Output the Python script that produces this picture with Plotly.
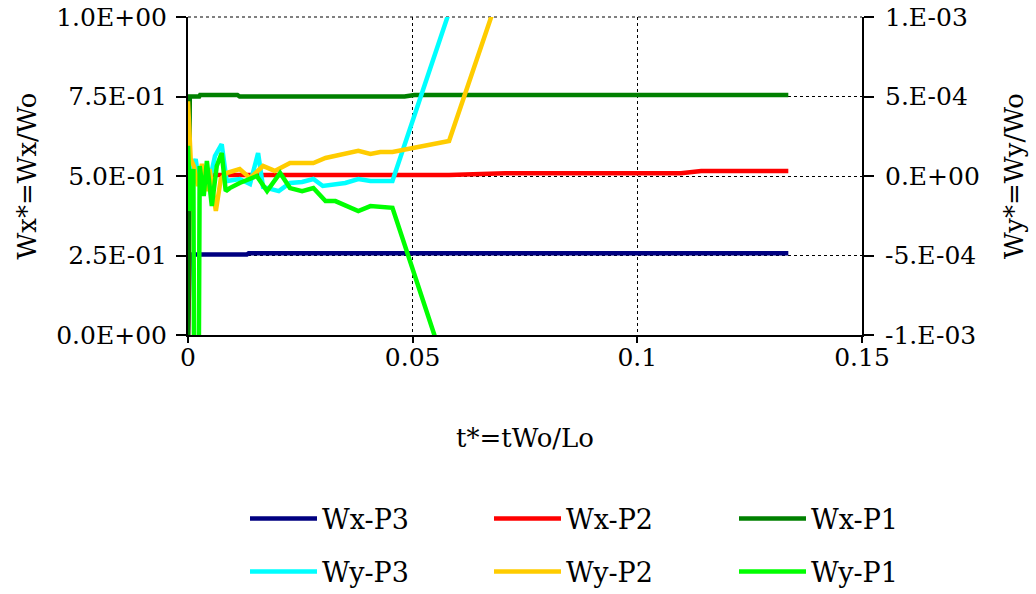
import plotly.graph_objects as go

# ---- data ----
t_wx_p3 = [0, 0.0004, 0.0131, 0.0135, 0.1336]
wx_p3 = [0, 0.253, 0.253, 0.257, 0.257]

t_wx_p2 = [0, 0.0004, 0.0581, 0.0706, 0.1097, 0.1142, 0.1336]
wx_p2 = [0, 0.503, 0.503, 0.509, 0.509, 0.516, 0.516]

t_wx_p1 = [0, 0.0004, 0.0025, 0.0027, 0.011, 0.0115, 0.0482, 0.0504, 0.1336]
wx_p1 = [0, 0.75, 0.75, 0.755, 0.755, 0.75, 0.75, 0.755, 0.755]

t_wy_p3 = [0, 0.0008, 0.0017, 0.0026, 0.0037, 0.0048, 0.006, 0.0075, 0.0086, 0.0115,
           0.0138, 0.0156, 0.0167, 0.0202, 0.0227, 0.0254, 0.0279, 0.03, 0.035, 0.0379,
           0.0406, 0.0455, 0.0581]
wy_p3 = [1.6e-4, 3.2e-5, 1.07e-4, -6.3e-5, 6.3e-5, -3.2e-5, 1.26e-4, 2.0e-4, -3.2e-5, -1.9e-5,
         -5e-5, 1.45e-4, -6.9e-5, -9.5e-5, -4.4e-5, -3.8e-5, -1.9e-5, -6.3e-5, -4.4e-5, -1.9e-5,
         -3.2e-5, -3.2e-5, 1.03e-3]

t_wy_p2 = [0, 0.0006, 0.0013, 0.0022, 0.0031, 0.004, 0.0048, 0.0062, 0.0073, 0.0086,
           0.0115, 0.0138, 0.0167, 0.0193, 0.0227, 0.0279, 0.0306, 0.035, 0.0379, 0.0406,
           0.0428, 0.0455, 0.0581, 0.0706]
wy_p2 = [4.7e-4, 1.07e-4, 6.3e-5, -6.3e-5, 7.6e-5, -9.5e-5, 4.4e-5, -2.2e-4, -1.9e-5, 1.9e-5,
         4.4e-5, -1.3e-5, 6.3e-5, 3.2e-5, 8.2e-5, 8.2e-5, 1.13e-4, 1.39e-4, 1.58e-4, 1.39e-4,
         1.51e-4, 1.51e-4, 2.2e-4, 1.26e-3]

t_wy_p1 = [0, 0.0005, 0.0012, 0.0018, 0.0026, 0.0035, 0.0042, 0.0053, 0.0064, 0.0075,
           0.0084, 0.0093, 0.0115, 0.0153, 0.0176, 0.0205, 0.0227, 0.0254, 0.0279, 0.0306,
           0.0328, 0.0379, 0.0406, 0.0455, 0.0581]
wy_p1 = [1.9e-4, -2.2e-4, 4.4e-5, -5e-3, 6.3e-5, -1.26e-4, 9.5e-5, -1.89e-4, 6.3e-5, 1.45e-4,
         -9.5e-5, -7.6e-5, -4.4e-5, 0, -9.5e-5, 1.9e-5, -7.6e-5, -9.5e-5, -7.6e-5, -1.58e-4,
         -1.58e-4, -2.2e-4, -1.89e-4, -2.0e-4, -1.28e-3]

x_tickvals = [0, 0.05, 0.1, 0.15]
x_ticktext = ["0", "0.05", "0.1", "0.15"]
y_tickvals = [0, 0.25, 0.5, 0.75, 1.0]
y_ticktext = ["0.0E+00", "2.5E-01", "5.0E-01", "7.5E-01", "1.0E+00"]
y2_tickvals = [-1e-3, -5e-4, 0, 5e-4, 1e-3]
y2_ticktext = ["-1.E-03", "-5.E-04", "0.E+00", "5.E-04", "1.E-03"]

FONT = "DejaVu Serif, Liberation Serif, Times New Roman, serif"
FS_TICK = 25
FS = 26
FS_LEG = 27
LW = 4.5

legend_cols = [245, 489, 734]
legend_rows = [519, 572]

fig = go.Figure()
series = [
    ("Wx-P3", t_wx_p3, wx_p3, "#000080", "y"),
    ("Wx-P2", t_wx_p2, wx_p2, "#FF0000", "y"),
    ("Wx-P1", t_wx_p1, wx_p1, "#008000", "y"),
    ("Wy-P3", t_wy_p3, wy_p3, "#00FFFF", "y2"),
    ("Wy-P2", t_wy_p2, wy_p2, "#FFCC00", "y2"),
    ("Wy-P1", t_wy_p1, wy_p1, "#00FF00", "y2"),
]
legends = {}
for i, (name, tx, vy, col, ax) in enumerate(series):
    leg = "legend" if i == 0 else f"legend{i + 1}"
    fig.add_trace(go.Scatter(x=tx, y=vy, name=name, mode="lines", yaxis=ax, legend=leg,
                             showlegend=True, line=dict(color=col, width=LW)))
    legends[leg] = dict(orientation="h", xanchor="left", yanchor="middle",
                        xref="container", yref="container", visible=True,
                        x=legend_cols[i % 3] / 1036, y=1 - legend_rows[i // 3] / 594,
                        font=dict(family=FONT, size=FS_LEG, color="black"),
                        itemwidth=67, bgcolor="rgba(0,0,0,0)")

axis_common = dict(showline=True, linecolor="black", linewidth=2, ticks="outside",
                   tickwidth=2, tickcolor="black", zeroline=False,
                   automargin=False, ticklabeloverflow="allow",
                   tickfont=dict(family=FONT, size=FS_TICK, color="black"))

fig.update_layout(
    width=1036, height=594,
    showlegend=True,
    margin=dict(l=188, r=174, t=17, b=259, autoexpand=False),
    paper_bgcolor="white", plot_bgcolor="white",
    font=dict(family=FONT, size=FS, color="black"),
    xaxis=dict(range=[0, 0.15], tickvals=x_tickvals, ticktext=x_ticktext,
               showgrid=True, gridcolor="black", griddash="dot", gridwidth=1,
               ticklen=6, ticklabelstandoff=-7,
               title=dict(text="t*=tWo/Lo", font=dict(family=FONT, size=FS), standoff=58),
               **axis_common),
    yaxis=dict(range=[0, 1], tickvals=y_tickvals, ticktext=y_ticktext,
               showgrid=True, gridcolor="black", griddash="dot", gridwidth=1,
               ticklen=10, ticklabelstandoff=4,
               title=dict(text="Wx*=Wx/Wo", font=dict(family=FONT, size=FS), standoff=12),
               **axis_common),
    yaxis2=dict(range=[-1e-3, 1e-3], tickvals=y2_tickvals, ticktext=y2_ticktext,
                overlaying="y", side="right", showgrid=False,
                ticklen=10, ticklabelstandoff=6,
                title=dict(text="Wy*=Wy/Wo", font=dict(family=FONT, size=FS), standoff=26),
                **axis_common),
    **legends,
)
# dotted top frame edge, as in the reference
fig.add_shape(type="line", xref="paper", yref="paper", x0=0, x1=1, y0=1, y1=1,
              line=dict(color="black", width=1, dash="dot"), layer="below")

fig.write_html("out.html")
